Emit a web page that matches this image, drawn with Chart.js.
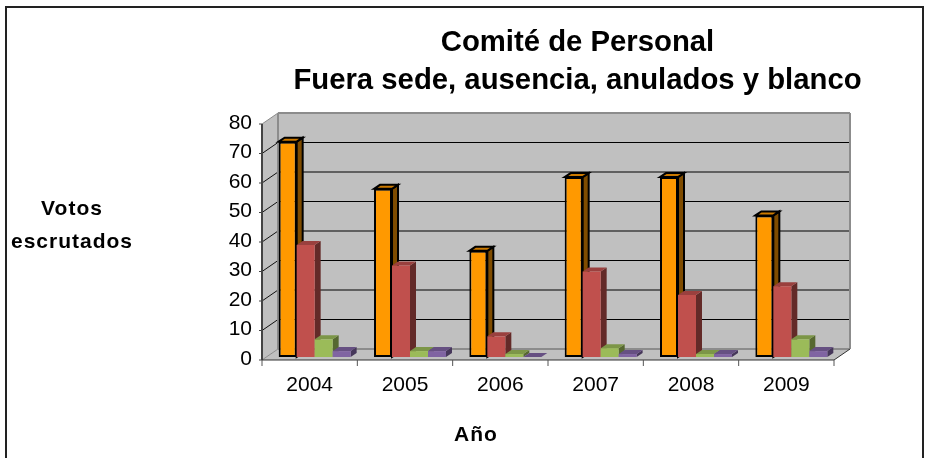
<!DOCTYPE html>
<html>
<head>
<meta charset="utf-8">
<style>
html, body { margin: 0; padding: 0; background: #fff; }
#wrap { width: 925px; height: 458px; overflow: hidden; }
</style>
<script src="https://cdn.jsdelivr.net/npm/chart.js@4"></script>
</head>
<body>
<div id="wrap"><canvas id="chart" width="925" height="458"></canvas></div>
<script>
const years = ['2004', '2005', '2006', '2007', '2008', '2009'];
const fueraSede = [73, 57, 36, 61, 61, 48];
const ausencia = [38, 31, 7, 29, 21, 24];
const anulados = [6, 2, 1, 3, 1, 6];
const blanco = [2, 2, 0, 1, 1, 2];
const titleLines = ['Comité de Personal', 'Fuera sede, ausencia, anulados y blanco'];
const yTitleLines = ['Votos', 'escrutados'];
const xTitle = 'Año';

const FONT = '"Liberation Sans", Arial, sans-serif';
// profundidad de la pared y de las barras (px)
const WALL_DX = 16, WALL_DY = 11;
const BAR_SHIFT_X = 5, BAR_SHIFT_Y = 3;
const BAR_DX = 6, BAR_DY = 4;

// colores: frontal, lateral, superior
const faces = [
    { front: '#FF9900', side: '#7F4C00', top: '#CC7A00', border: '#000000' },
    { front: '#C0504D', side: '#632A28', top: '#9A403E', border: null },
    { front: '#9BBB59', side: '#566830', top: '#7C9647', border: null },
    { front: '#8064A2', side: '#46375A', top: '#665082', border: null }
];

function poly(ctx, pts, fill, stroke, lw) {
    ctx.beginPath();
    pts.forEach((p, i) => i ? ctx.lineTo(p[0], p[1]) : ctx.moveTo(p[0], p[1]));
    ctx.closePath();
    if (fill) { ctx.fillStyle = fill; ctx.fill(); }
    if (stroke) { ctx.strokeStyle = stroke; ctx.lineWidth = lw || 1; ctx.stroke(); }
}

function line(ctx, x1, y1, x2, y2, color, lw) {
    ctx.beginPath();
    ctx.moveTo(x1, y1);
    ctx.lineTo(x2, y2);
    ctx.strokeStyle = color;
    ctx.lineWidth = lw || 1;
    ctx.stroke();
}

// Marco, paredes y rejilla en pseudo 3D
const wallsPlugin = {
    id: 'walls',
    afterLayout(chart) {
        // el titulo va centrado sobre el trazado, no sobre el lienzo
        chart.titleBlock.left = 230;
        chart.titleBlock.right = 925;
    },
    beforeDraw(chart) {
        const { ctx } = chart;
        ctx.save();
        ctx.fillStyle = '#ffffff';
        ctx.fillRect(0, 0, 925, 458);
        ctx.strokeStyle = '#222222';
        ctx.lineWidth = 2;
        ctx.strokeRect(6, 7, 917, 470);
        ctx.restore();
    },
    beforeDatasetsDraw(chart) {
        const { ctx, chartArea: a, scales } = chart;
        const y = scales.y;
        const y0 = y.getPixelForValue(0), yTop = y.getPixelForValue(80);
        const bl = a.left + WALL_DX, br = a.right + WALL_DX;

        ctx.save();
        poly(ctx, [[a.left, y0], [bl, y0 - WALL_DY], [br, y0 - WALL_DY], [a.right, y0]], '#C0C0C0');
        poly(ctx, [[a.left, y0], [bl, y0 - WALL_DY], [bl, yTop - WALL_DY], [a.left, yTop]], '#C0C0C0');
        poly(ctx, [[bl, y0 - WALL_DY], [br, y0 - WALL_DY], [br, yTop - WALL_DY], [bl, yTop - WALL_DY]], '#C0C0C0');

        y.ticks.forEach(t => {
            const py = y.getPixelForValue(t.value);
            if (t.value > 0 && t.value < 80) line(ctx, bl, py - WALL_DY, br, py - WALL_DY, '#000000', 1);
            if (t.value > 0 && t.value < 80) line(ctx, a.left, py, bl, py - WALL_DY, '#111111', 1);
            line(ctx, a.left - 3, py, a.left, py, '#444444', 1);
        });

        // aristas grises
        line(ctx, a.left, yTop, bl, yTop - WALL_DY, '#8C8C8C', 1);
        line(ctx, bl, yTop - WALL_DY, br, yTop - WALL_DY, '#8C8C8C', 2);
        line(ctx, br, yTop - WALL_DY, br, y0 - WALL_DY, '#8C8C8C', 2);
        line(ctx, bl, yTop - WALL_DY, bl, y0 - WALL_DY, '#8C8C8C', 2);
        line(ctx, bl, y0 - WALL_DY, br, y0 - WALL_DY, '#8C8C8C', 2);

        // suelo y ejes
        line(ctx, a.left, y0, bl, y0 - WALL_DY, '#8C8C8C', 1);
        line(ctx, a.right, y0, br, y0 - WALL_DY, '#333333', 1);
        line(ctx, a.left, yTop, a.left, y0, '#444444', 2);
        line(ctx, a.left, y0, a.right, y0, '#333333', 1);
        const step = (a.right - a.left) / years.length;
        for (let i = 0; i <= years.length; i++) {
            line(ctx, a.left + step * i, y0, a.left + step * i, y0 + 6, '#555555', 1);
        }
        ctx.restore();
    },
    // cancela el dibujo propio: las series se pintan abajo, de izquierda a derecha
    beforeDatasetDraw() {
        return false;
    },
    afterDatasetsDraw(chart) {
        const { ctx, chartArea } = chart;
        ctx.save();
        ctx.translate(BAR_SHIFT_X, -BAR_SHIFT_Y);
        faces.forEach((f, index) => {
            chart.getDatasetMeta(index).data.forEach(bar => {
                const p = bar.getProps(['x', 'y', 'base', 'width'], true);
                const l = p.x - p.width / 2, r = p.x + p.width / 2;
                poly(ctx, [[r, p.y], [r + BAR_DX, p.y - BAR_DY], [r + BAR_DX, p.base - BAR_DY], [r, p.base]], f.side, f.border, 2);
                poly(ctx, [[l, p.y], [l + BAR_DX, p.y - BAR_DY], [r + BAR_DX, p.y - BAR_DY], [r, p.y]], f.top, f.border, 2);
                bar.draw(ctx, chartArea);
            });
        });
        ctx.restore();

        // rotulos de los ejes, colocados a mano como en el original
        ctx.save();
        ctx.fillStyle = '#000000';
        ctx.font = 'bold 21px ' + FONT;
        ctx.letterSpacing = '1px';
        ctx.textAlign = 'center';
        ctx.textBaseline = 'middle';
        ctx.fillText(yTitleLines[0], 72, 209);
        ctx.fillText(yTitleLines[1], 72, 242);
        ctx.fillText(xTitle, 476, 435);
        ctx.restore();
    }
};

new Chart(document.getElementById('chart'), {
    type: 'bar',
    data: {
        labels: years,
        datasets: [
            { label: 'Fuera sede', data: fueraSede, backgroundColor: faces[0].front, borderColor: '#000000', borderWidth: 2, borderSkipped: false },
            { label: 'Ausencia', data: ausencia, backgroundColor: faces[1].front, borderWidth: 0 },
            { label: 'Anulados', data: anulados, backgroundColor: faces[2].front, borderWidth: 0 },
            { label: 'Blanco', data: blanco, backgroundColor: faces[3].front, borderWidth: 0 }
        ]
    },
    options: {
        responsive: false,
        animation: false,
        categoryPercentage: 0.755,
        barPercentage: 1,
        layout: { padding: { left: 0, right: 91, top: 0, bottom: 0 } },
        plugins: {
            legend: { display: false },
            tooltip: { enabled: false },
            title: {
                display: true,
                text: titleLines,
                color: '#000000',
                font: { family: FONT, size: 29.3, weight: 'bold', lineHeight: 1.297 },
                padding: { top: 24, bottom: 24 }
            }
        },
        scales: {
            x: {
                grid: { display: false },
                border: { display: false },
                ticks: { color: '#000000', font: { family: FONT, size: 21 }, padding: 5, maxRotation: 0 },
                afterFit(scale) { scale.height = 98; }
            },
            y: {
                min: 0,
                max: 80,
                grid: { display: false },
                border: { display: false },
                ticks: { stepSize: 10, color: '#000000', font: { family: FONT, size: 21 }, padding: 2, labelOffset: -1 },
                afterFit(scale) { scale.width = 262; }
            }
        }
    },
    plugins: [wallsPlugin]
});
</script>
</body>
</html>
